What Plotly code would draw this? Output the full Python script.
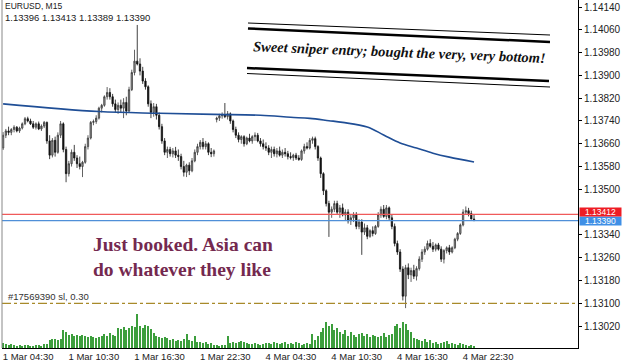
import plotly.graph_objects as go

# ---------------- data (prices in points of 0.00001 above BASE) ----------------
BASE = 1.13
PT = 0.00001

OPEN = [645,690,705,700,710,718,705,715,730,748,740,730,718,730,712,722,735,670,620,672,
        630,690,730,640,555,590,630,610,590,580,595,650,680,735,738,750,785,795,825,840,
        825,800,780,795,785,805,775,850,910,950,940,915,880,860,800,770,790,760,720,670,
        630,640,625,635,620,615,580,560,585,565,600,630,650,665,650,660,630,625,745,750,
        758,762,755,765,740,710,690,675,685,660,680,670,685,690,670,660,650,645,630,640,
        625,635,620,630,625,615,612,620,610,605,635,650,645,672,678,650,610,555,495,450,
        420,430,450,420,435,410,420,390,400,410,370,385,350,365,335,355,345,370,410,430,
        405,435,400,370,310,280,220,125,225,200,215,195,222,255,280,290,310,300,290,305,
        290,255,285,295,280,295,325,345,375,420,425,415,396]
HIGH = [701,712,720,715,725,722,720,735,754,755,748,740,735,738,728,740,738,690,680,685,
        700,740,735,650,600,640,656,620,615,600,660,690,740,745,760,790,800,830,859,855,
        835,815,805,815,820,825,860,920,990,1077,960,930,890,865,812,803,800,770,730,680,
        650,649,645,649,640,625,600,590,595,610,640,660,673,680,670,665,645,640,755,765,
        770,803,775,770,745,720,700,690,690,685,695,690,700,698,680,675,665,655,650,650,
        645,650,640,645,635,630,625,628,620,640,660,665,680,685,685,655,615,560,500,460,
        440,460,460,445,450,430,430,410,420,420,395,395,380,375,360,370,375,420,440,445,
        445,440,410,380,320,290,230,235,240,225,235,230,265,290,300,320,325,315,310,312,
        300,290,300,305,300,330,350,380,430,440,435,425,413]
LOW = [638,680,690,690,700,700,698,710,725,735,726,712,710,708,705,715,660,606,612,615,
       625,680,630,525,545,580,600,575,570,543,590,640,675,725,730,745,770,790,815,815,
       790,770,765,770,750,760,770,845,900,935,900,870,850,790,750,755,745,710,660,620,
       610,615,612,610,600,570,545,543,550,560,595,620,640,640,640,620,613,615,735,740,
       748,750,745,730,700,680,665,660,650,655,665,660,670,665,650,640,635,620,610,615,
       612,615,610,615,605,605,600,603,600,600,625,640,640,660,640,600,540,480,440,333,
       400,420,410,400,405,390,380,375,385,360,360,270,340,325,330,335,340,365,400,400,
       395,390,360,300,270,210,110,83,185,175,185,180,215,245,270,285,295,280,282,285,
       245,240,275,270,275,290,318,340,370,410,405,395,389]
CLOSE = [690,705,700,710,718,705,715,730,748,740,730,718,730,712,722,735,670,620,672,630,
         690,730,640,555,590,630,610,590,580,595,650,680,735,738,750,785,795,825,840,825,
         800,780,795,785,805,775,850,910,950,940,915,880,860,800,770,790,760,720,670,630,
         640,625,635,620,615,580,560,585,565,600,630,650,665,650,660,630,625,635,750,758,
         762,755,765,740,710,690,675,685,660,680,670,685,690,670,660,650,645,630,640,625,
         635,620,630,625,615,612,620,610,605,635,650,645,672,678,650,610,555,495,450,420,
         430,450,420,435,410,420,390,400,410,370,385,350,365,335,355,345,370,410,430,405,
         435,400,370,310,280,220,125,225,200,215,195,222,255,280,290,310,300,290,305,290,
         255,285,295,280,295,325,345,375,420,425,415,396,390]
VOLUME = [150,120,90,120,
          90,60,90,60,90,90,60,60,90,90,60,120,
          120,240,270,270,240,270,
          540,480,
          390,420,360,390,360,390,360,330,360,
          330,300,330,360,
          420,360,450,390,360,
          600,570,630,540,600,660,630,1020,660,600,690,660,570,450,
          360,330,300,330,300,
          240,270,210,240,210,270,420,
          240,210,360,180,
          180,150,180,120,150,90,
          90,60,90,90,360,
          150,180,150,180,210,180,150,
          120,120,150,120,90,120,150,
          150,120,180,150,120,150,180,120,150,120,180,150,
          90,120,150,120,420,
          240,360,480,600,780,660,720,
          540,600,480,420,540,
          360,480,390,330,420,
          450,360,420,330,390,360,
          330,360,450,330,390,420,
          660,720,600,780,720,540,480,
          300,270,240,210,270,180,240,
          150,180,120,150,180,210,120,
          150,120,90,150,120,90,60,90,60]

MA_IDX = [0, 35, 57, 77, 94, 105, 112, 119, 124, 133, 139, 145, 151, 157, 163, 172]
MA_PTS = [800, 773, 767, 763, 760, 753, 749, 741, 735, 719, 691, 663, 645, 627, 613, 596]

TICK_IDX = [0, 24, 48, 72, 96, 120, 144, 168]
TICK_TEXT = ["1 Mar 04:30", "1 Mar 10:30", "1 Mar 16:30", "1 Mar 22:30",
             "4 Mar 04:30", "4 Mar 10:30", "4 Mar 16:30", "4 Mar 22:30"]
# 1.13420 is hidden behind the price labels in the original, so it is left out
Y_TICKS = [1.13020, 1.13100, 1.13180, 1.13260, 1.13340, 1.13500, 1.13580,
           1.13660, 1.13740, 1.13820, 1.13900, 1.13980, 1.14060, 1.14140]

ASK_LINE = 1.13412
BID_LINE = 1.13390
SL_LINE = 1.13100
HEADER_1 = "EURUSD, M15"
HEADER_2 = "1.13396 1.13413 1.13389 1.13390"
SL_TEXT = "#17569390 sl, 0.30"
NOTE_1 = "Sweet sniper entry; bought the very, very bottom!"
NOTE_2 = "Just booked. Asia can<br>do whatever they like"

# ---------------- derived ----------------
def price(v):
    return round(BASE + v * PT, 5)

idx = list(range(len(CLOSE)))
o = [price(v) for v in OPEN]
h = [price(v) for v in HIGH]
l = [price(v) for v in LOW]
c = [price(v) for v in CLOSE]
ma = [price(v) for v in MA_PTS]

W, H = 625, 362
ML, MR, MT, MB = 2, 47, 0, 14
PW, PH = W - ML - MR, H - MT - MB

def px(x):
    return (x - ML) / PW

def py(y):
    return (H - MB - y) / PH

fig = go.Figure()

fig.add_trace(go.Bar(x=idx, y=VOLUME, yaxis="y2", marker=dict(color="#3c9e3c", line=dict(width=0)),
                     width=0.38, showlegend=False, hoverinfo="skip"))

fig.add_trace(go.Candlestick(
    x=idx, open=o, high=h, low=l, close=c,
    increasing=dict(line=dict(color="#3a3a3a", width=0.8), fillcolor="#9a9a9a"),
    decreasing=dict(line=dict(color="#111111", width=0.8), fillcolor="#111111"),
    whiskerwidth=0, showlegend=False))

fig.add_trace(go.Scatter(x=MA_IDX, y=ma, mode="lines", line=dict(color="#1f4e96", width=1.6, shape="spline"),
                         showlegend=False, hoverinfo="skip"))

shapes = [
    dict(type="line", xref="paper", x0=0, x1=1, yref="y", y0=ASK_LINE, y1=ASK_LINE,
         line=dict(color="#f05a5a", width=1.2)),
    dict(type="line", xref="paper", x0=0, x1=1, yref="y", y0=BID_LINE, y1=BID_LINE,
         line=dict(color="#4f8fd8", width=1.2)),
    dict(type="line", xref="paper", x0=0, x1=1, yref="y", y0=SL_LINE, y1=SL_LINE,
         line=dict(color="#a88a2a", width=1.2, dash="dashdot")),
    dict(type="line", xref="paper", yref="paper", x0=0, x1=0, y0=0, y1=1,
         line=dict(color="#888888", width=1)),
]
# decorative slanted double rules around the note
for (x0, y0, x1, y1, wd) in [(248, 23, 550, 35, 1), (248, 28.5, 550, 42, 2.5),
                             (247, 68, 549, 81, 2.5), (247, 73.5, 550, 87, 1)]:
    shapes.append(dict(type="line", xref="paper", yref="paper", x0=px(x0), y0=py(y0),
                       x1=px(x1), y1=py(y1), line=dict(color="black", width=wd)))

annotations = [
    dict(text=HEADER_1, x=px(3), y=py(6), xref="paper", yref="paper", xanchor="left", yanchor="middle",
         showarrow=False, font=dict(family="Liberation Sans", size=8.5, color="#222")),
    dict(text=HEADER_2, x=px(3), y=py(17.5), xref="paper", yref="paper", xanchor="left", yanchor="middle",
         showarrow=False, font=dict(family="Liberation Sans", size=9.5, color="#222")),
    dict(text=SL_TEXT, x=px(6), y=py(296), xref="paper", yref="paper", xanchor="left", yanchor="middle",
         showarrow=False, font=dict(family="Liberation Sans", size=9.5, color="#333")),
    dict(text="<b><i>" + NOTE_1 + "</i></b>", x=px(399), y=py(52), xref="paper", yref="paper",
         xanchor="center", yanchor="middle", textangle=2.3, showarrow=False,
         font=dict(family="Liberation Serif", size=14.5, color="#111")),
    dict(text="<b>" + NOTE_2 + "</b>", x=px(91), y=py(257), xref="paper", yref="paper",
         xanchor="left", yanchor="middle", align="left", showarrow=False,
         font=dict(family="Liberation Serif", size=19.5, color="#74294f")),
    dict(text="%.5f" % BID_LINE, x=px(579), y=py(221), xref="paper", yref="paper", xanchor="left",
         yanchor="middle", showarrow=False, bgcolor="#3f8fe6", width=41, height=8, borderpad=0,
         font=dict(family="Liberation Sans", size=8.5, color="white")),
    dict(text="%.5f" % ASK_LINE, x=px(579), y=py(211.5), xref="paper", yref="paper", xanchor="left",
         yanchor="middle", showarrow=False, bgcolor="#ee1c24", width=41, height=8, borderpad=0,
         font=dict(family="Liberation Sans", size=8.5, color="white")),
]

bar_px = 2.738
x_lo = -0.4
x_hi = x_lo + PW / bar_px

fig.update_layout(
    width=W, height=H, margin=dict(l=ML, r=MR, t=MT, b=MB),
    paper_bgcolor="white", plot_bgcolor="white",
    font=dict(family="Liberation Sans", size=10, color="#222"),
    bargap=0, showlegend=False,
    xaxis=dict(range=[x_lo, x_hi], tickvals=TICK_IDX, ticktext=TICK_TEXT, ticks="",
               showline=True, linecolor="black", linewidth=1, showgrid=False,
               zeroline=False, rangeslider=dict(visible=False), tickfont=dict(size=9.5, color="#222"),
               ticklabelshift=25, ticklabelstandoff=0, automargin=False),
    yaxis=dict(range=[1.129431, 1.141646], side="right", tickvals=Y_TICKS,
               ticktext=["%.5f" % v for v in Y_TICKS], ticks="outside", ticklen=3, tickcolor="black",
               showline=True, linecolor="black", linewidth=1, showgrid=False, zeroline=False,
               tickfont=dict(size=10, color="#222"), ticklabelstandoff=0, automargin=False),
    yaxis2=dict(overlaying="y", range=[0, PH * 30], visible=False),
    shapes=shapes, annotations=annotations,
)

fig.write_html("out.html")
